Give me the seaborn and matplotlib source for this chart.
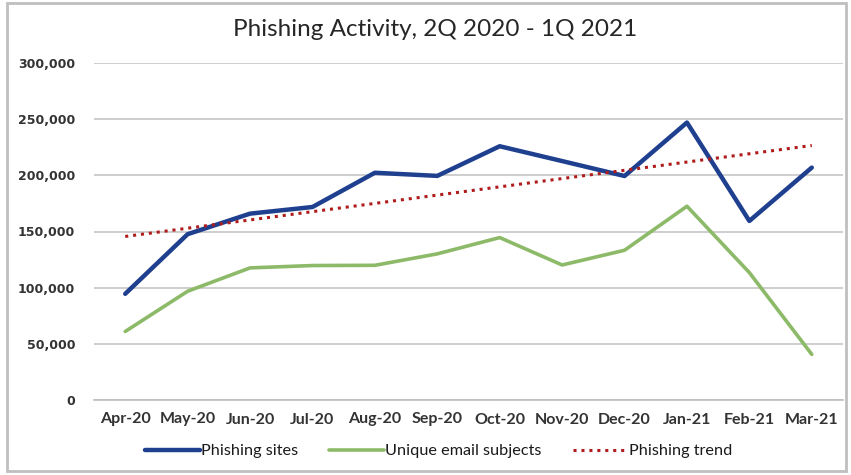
import numpy as np
import pandas as pd
import matplotlib
matplotlib.use("Agg")
import matplotlib.pyplot as plt
import seaborn as sns
from matplotlib.patches import Rectangle
from matplotlib.ticker import FuncFormatter, FixedLocator

months = ["Apr-20", "May-20", "Jun-20", "Jul-20", "Aug-20", "Sep-20",
          "Oct-20", "Nov-20", "Dec-20", "Jan-21", "Feb-21", "Mar-21"]
phishing_sites = [94500, 147600, 165900, 171800, 202300, 199500,
                  225900, 212700, 199400, 247000, 159400, 206900]
unique_subjects = [61000, 96800, 117600, 119700, 119900, 130100,
                   144600, 120200, 133300, 172500, 113400, 40600]
yticks = [0, 50000, 100000, 150000, 200000, 250000, 300000]

sns.set_theme(style="white")
plt.rcParams['font.family'] = ['Lato', 'DejaVu Sans']

x = np.arange(len(months))
coef = np.polyfit(x, phishing_sites, 1)
trend = np.polyval(coef, x)

df = pd.DataFrame({"idx": x, "sites": phishing_sites,
                   "subjects": unique_subjects, "trend": trend})

fig = plt.figure(figsize=(8.51, 4.75), dpi=100)
ax = fig.add_axes([94/851, 1-400/475, (843-94)/851, (400-63)/475])

blue = "#1F3F8F"
green = "#8DBA68"
red = "#B01C1C"

sns.lineplot(data=df, x="idx", y="sites", ax=ax, color=blue, lw=3.2,
             label="Phishing sites")
sns.lineplot(data=df, x="idx", y="subjects", ax=ax, color=green, lw=2.6,
             label="Unique email subjects")
sns.lineplot(data=df, x="idx", y="trend", ax=ax, color=red, lw=2.2,
             label="Phishing trend", linestyle=(0, (1, 1.6)))

ax.set_xlim(-0.5, len(months) - 0.5)
ax.set_ylim(0, 300000)
ax.set_yticks(yticks)
ax.yaxis.set_major_formatter(FuncFormatter(lambda v, p: f"{int(v):,}"))
ax.set_xticks(x)
ax.set_xticklabels(months, fontsize=11.5, fontweight="bold", color="#333333")
ax.xaxis.set_minor_locator(FixedLocator(np.arange(-0.5, len(months), 1)))
ax.tick_params(axis="x", which="major", length=0, pad=9)
ax.tick_params(axis="x", which="minor", length=5, color="#BFBFBF", width=1, direction="out")
ax.tick_params(axis="y", length=0, pad=13.5)
for lab in ax.get_yticklabels():
    lab.set_fontfamily("DejaVu Sans")
    lab.set_fontweight("bold")
    lab.set_fontsize(9)
    lab.set_color("#333333")
ax.set_xlabel("")
ax.set_ylabel("")
ax.grid(axis="y", color="#C6C6C6", lw=1.2)
ax.set_axisbelow(True)
for s in ["left", "right", "top"]:
    ax.spines[s].set_visible(False)
ax.spines["bottom"].set_color("#BFBFBF")
ax.spines["bottom"].set_linewidth(1.2)

ax.get_legend().remove()
h, l = ax.get_legend_handles_labels()
leg = fig.legend(h, l, loc="center", bbox_to_anchor=(438.5/851, 1 - 451/475),
                 ncol=3, frameon=False, fontsize=11.7, handlelength=3.4,
                 handletextpad=0.05, columnspacing=1.9)
for t in leg.get_texts():
    t.set_color("#1A1A1A")

fig.text(435/851, 1 - 30/475, "Phishing Activity, 2Q 2020 - 1Q 2021",
         ha="center", va="center", fontsize=17.5, color="#262626")

fig.patches.append(Rectangle((7/851, 1 - 471/475), 839/851, 468/475,
                             transform=fig.transFigure, fill=False,
                             edgecolor="#BFBFBF", lw=2))

fig.savefig("out.png", dpi=100)
